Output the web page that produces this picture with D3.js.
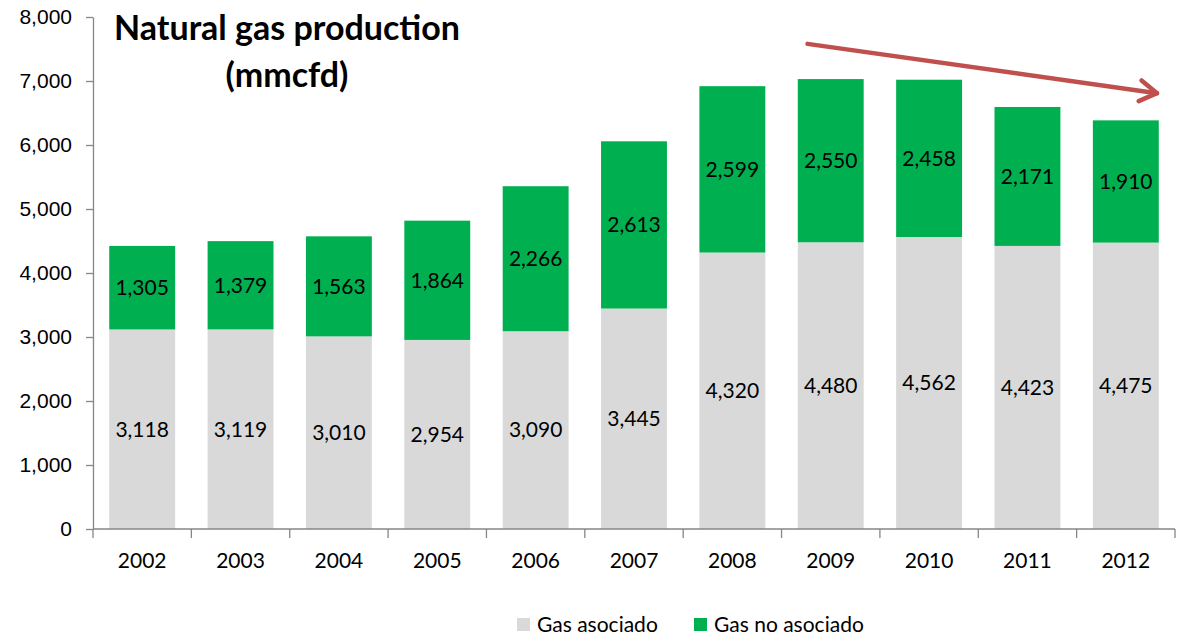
<!DOCTYPE html>
<html>
<head>
<meta charset="utf-8">
<script src="https://cdn.jsdelivr.net/npm/d3@7"></script>
<style>
  html, body { margin: 0; padding: 0; background: #fff; }
  svg { display: block; font-family: Lato, "Open Sans", sans-serif; }
  .axis path, .axis line { stroke: #868686; stroke-width: 1.3; }
  .axis text { fill: #000; font-size: 21px; }
</style>
</head>
<body>
<div id="chart"></div>
<script>
const years = ["2002", "2003", "2004", "2005", "2006", "2007", "2008", "2009", "2010", "2011", "2012"];
const associated = [3118, 3119, 3010, 2954, 3090, 3445, 4320, 4480, 4562, 4423, 4475];
const nonAssociated = [1305, 1379, 1563, 1864, 2266, 2613, 2599, 2550, 2458, 2171, 1910];
const yTicks = [0, 1000, 2000, 3000, 4000, 5000, 6000, 7000, 8000];
const seriesNames = ["Gas asociado", "Gas no asociado"];
const seriesColors = ["#D9D9D9", "#00B050"];
const titleLines = ["Natural gas production", "(mmcfd)"];
// trend arrow, in data terms
const trend = { from: { year: "2008", value: 7580 }, to: { year: "2012", value: 6810 } };

const width = 1178, height = 635;
const margin = { top: 17, right: 3, bottom: 106, left: 93 };
const innerW = width - margin.left - margin.right;
const innerH = height - margin.top - margin.bottom;

const svg = d3.select("#chart").append("svg").attr("width", width).attr("height", height);
const g = svg.append("g").attr("transform", `translate(${margin.left},${margin.top})`);

const x = d3.scaleBand().domain(years).range([0, innerW]).paddingInner(0.33).paddingOuter(0.165);
const xOuter = d3.scaleBand().domain(years).range([0, innerW]);
const y = d3.scaleLinear().domain([0, 8000]).range([innerH, 0]);

const rows = years.map((yr, i) => ({ year: yr, a: associated[i], n: nonAssociated[i] }));
const stacked = d3.stack().keys(["a", "n"])(rows);

// bars
g.append("g").selectAll("g.series").data(stacked).join("g")
  .attr("fill", (d, i) => seriesColors[i])
  .selectAll("rect").data(d => d).join("rect")
  .attr("x", d => x(d.data.year))
  .attr("width", x.bandwidth())
  .attr("y", d => y(d[1]))
  .attr("height", d => y(d[0]) - y(d[1]));

// value labels
const fmt = d3.format(",");
g.append("g").selectAll("g.lbls").data(stacked).join("g")
  .selectAll("text").data(d => d).join("text")
  .attr("x", d => x(d.data.year) + x.bandwidth() / 2)
  .attr("y", d => y((d[0] + d[1]) / 2))
  .attr("dy", "0.35em")
  .attr("text-anchor", "middle")
  .style("font-size", "21px")
  .attr("fill", "#000")
  .text(d => fmt(d[1] - d[0]));

// y axis
g.append("g").attr("class", "axis")
  .call(d3.axisLeft(y).tickValues(yTicks).tickFormat(d3.format(",")).tickSize(7).tickSizeOuter(0).tickPadding(14));

// x axis: ticks on band boundaries
const xAxisG = g.append("g").attr("class", "axis").attr("transform", `translate(0,${innerH})`);
xAxisG.append("line").attr("x1", 0).attr("x2", innerW).attr("y1", 0).attr("y2", 0);
xAxisG.selectAll("line.tick").data(years.concat(["end"])).join("line")
  .attr("class", "tick")
  .attr("x1", (d, i) => i * xOuter.step()).attr("x2", (d, i) => i * xOuter.step())
  .attr("y1", 0).attr("y2", 9);
xAxisG.selectAll("text").data(years).join("text")
  .attr("x", d => xOuter(d) + xOuter.bandwidth() / 2)
  .attr("y", 32)
  .attr("dy", "0.35em")
  .attr("text-anchor", "middle")
  .text(d => d);

// title
svg.append("text")
  .attr("x", 287).attr("y", 40)
  .attr("text-anchor", "middle")
  .style("font-size", "34px").style("font-weight", "bold")
  .selectAll("tspan").data(titleLines).join("tspan")
  .attr("x", 287).attr("dy", (d, i) => i === 0 ? 0 : 47)
  .text(d => d);

// trend arrow
const ax1 = margin.left + xOuter(trend.from.year) + xOuter.bandwidth() + 26;
const ay1 = margin.top + y(trend.from.value);
const ax2 = margin.left + xOuter(trend.to.year) + xOuter.bandwidth() - 18;
const ay2 = margin.top + y(trend.to.value);
const ang = Math.atan2(ay2 - ay1, ax2 - ax1);
const head = 20, spread = 0.55;
const arrow = svg.append("g").attr("stroke", "#C0504D").attr("stroke-width", 4.5)
  .attr("fill", "none").attr("stroke-linecap", "round").attr("stroke-linejoin", "round");
arrow.append("line").attr("x1", ax1).attr("y1", ay1).attr("x2", ax2).attr("y2", ay2);
arrow.append("path").attr("d", d3.line()([
  [ax2 - head * Math.cos(ang - spread), ay2 - head * Math.sin(ang - spread)],
  [ax2, ay2],
  [ax2 - head * Math.cos(ang + spread), ay2 - head * Math.sin(ang + spread)]
]));

// legend
const legend = svg.append("g").attr("transform", "translate(517,625)");
const legendOffsets = [0, 177];
seriesNames.forEach((name, i) => {
  const item = legend.append("g").attr("transform", `translate(${legendOffsets[i]},0)`);
  item.append("rect").attr("x", 0).attr("y", -7).attr("width", 13).attr("height", 13).attr("fill", seriesColors[i]);
  item.append("text").attr("x", 20).attr("y", 0).attr("dy", "0.35em").style("font-size", "21px").text(name);
});
</script>
</body>
</html>
